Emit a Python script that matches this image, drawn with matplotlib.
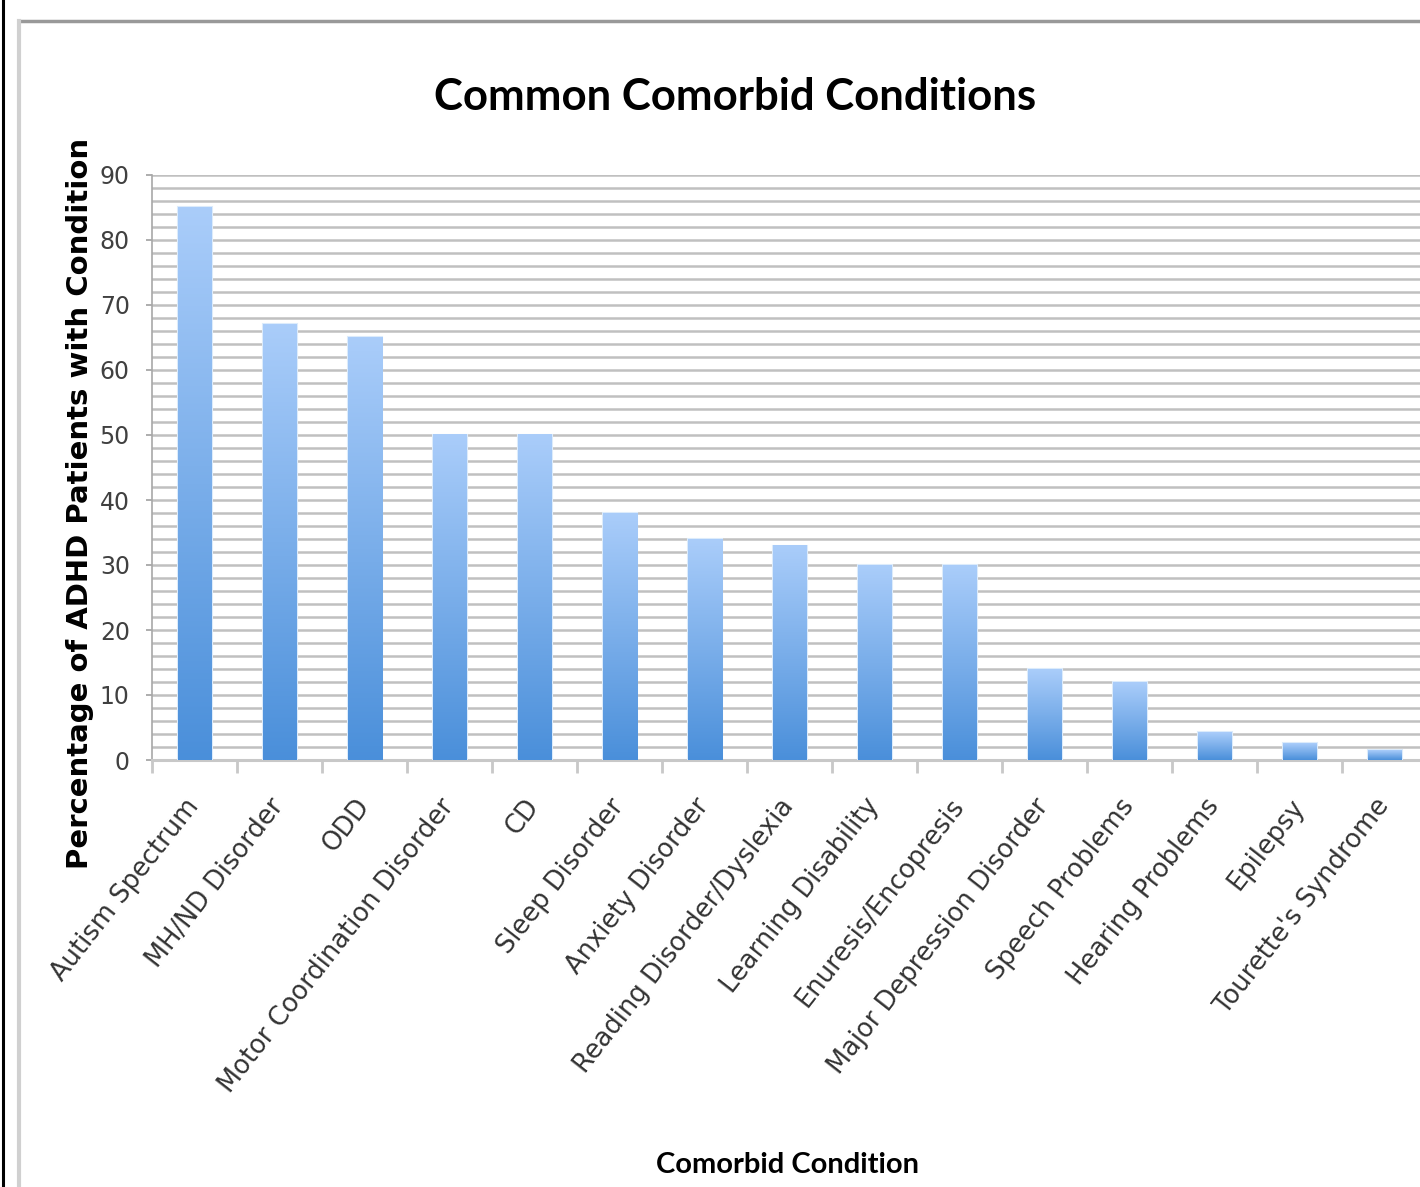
import numpy as np
import matplotlib
matplotlib.use('Agg')
import matplotlib.pyplot as plt
from matplotlib.colors import LinearSegmentedColormap
from matplotlib.lines import Line2D

conditions = ['Autism Spectrum', 'MH/ND Disorder', 'ODD', 'Motor Coordination Disorder', 'CD',
              'Sleep Disorder', 'Anxiety Disorder', 'Reading Disorder/Dyslexia', 'Learning Disability',
              'Enuresis/Encopresis', 'Major Depression Disorder', 'Speech Problems',
              'Hearing Problems', 'Epilepsy', "Tourette's Syndrome"]
percent = [85, 67, 65, 50, 50, 38, 34, 33, 30, 30, 14, 12, 4.3, 2.6, 1.5]
y_ticks = [0, 10, 20, 30, 40, 50, 60, 70, 80, 90]

fig = plt.figure(figsize=(14.2, 11.87), dpi=100)
ax = fig.add_axes([152 / 1420, 427 / 1187, 1275 / 1420, 585 / 1187])

x = np.arange(len(conditions))
bars = ax.bar(x, percent, width=0.4, color='none', edgecolor='none', zorder=3)

# per-bar vertical gradient, light at top, darker at bottom
grad_cmap = LinearSegmentedColormap.from_list('bluegrad', ['#4a8fda', '#aacdfa'])
grad = np.linspace(0, 1, 256).reshape(-1, 1)
for b in bars:
    x0, w, h = b.get_x(), b.get_width(), b.get_height()
    ax.imshow(grad, cmap=grad_cmap, origin='lower', aspect='auto',
              extent=[x0, x0 + w, 0, h], zorder=3, interpolation='bilinear')
    ax.add_patch(plt.Rectangle((x0, 0), w, h, fill=False, edgecolor='#dcebfb', lw=1.5, zorder=2.9))

ax.set_xlim(-0.5, len(conditions) - 0.5)
ax.set_ylim(0, 90)

# gridlines every 2 units
ax.set_yticks(y_ticks)
ax.set_yticks(np.arange(0, 91, 2), minor=True)
ax.yaxis.grid(True, which='both', color='#c0c0c0', lw=1.8, zorder=1)
ax.set_axisbelow(True)

for side in ['top', 'right']:
    ax.spines[side].set_visible(False)
ax.spines['left'].set_color('#a8a8a8')
ax.spines['left'].set_linewidth(1.2)
ax.spines['bottom'].set_color('#c8c8c8')
ax.spines['bottom'].set_linewidth(2.2)

ax.tick_params(axis='y', which='major', length=4, width=1.2, color='#a0a0a0',
               labelsize=17, labelcolor='#404040', pad=12)
ax.tick_params(axis='y', which='minor', length=0)

ax.set_xticks(x)
ax.set_xticklabels(conditions, rotation=52, ha='right', va='center', rotation_mode='anchor',
                   fontsize=18.5, color='#333333')
ax.tick_params(axis='x', which='major', length=0, pad=30)
ax.set_xticks(np.arange(-0.5, len(conditions), 1), minor=True)
ax.tick_params(axis='x', which='minor', length=9, width=2, color='#c8c8c8')

fig.text(735 / 1420, 1 - 97 / 1187, 'Common Comorbid Conditions', ha='center', va='center',
         fontsize=31.5, fontweight='bold', family=['Lato', 'DejaVu Sans'])
fig.text(80 / 1420, 1 - 503 / 1187, 'Percentage of ADHD Patients with Condition', rotation=90,
         ha='center', va='center', fontsize=21, fontweight='bold', family='DejaVu Sans')
fig.text(787 / 1420, 1 - 1165 / 1187, 'Comorbid Condition', ha='center', va='center',
         fontsize=21, fontweight='bold', family=['Lato', 'DejaVu Sans'])

# outer frame lines of the pasted chart
fig.add_artist(Line2D([3 / 1420, 3 / 1420], [0, 1], color='black', lw=2.2))
fig.add_artist(Line2D([19 / 1420, 1], [1 - 21 / 1187, 1 - 21 / 1187], color='#999999', lw=2.5))
fig.add_artist(Line2D([19 / 1420, 19 / 1420], [0, 1 - 21 / 1187], color='#d0d0d0', lw=3))

fig.savefig('out.png', dpi=100)
